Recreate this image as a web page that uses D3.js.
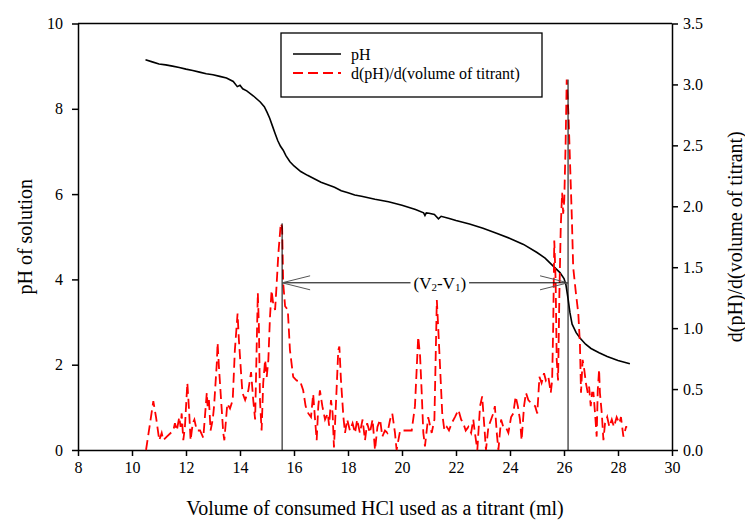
<!DOCTYPE html>
<html>
<head>
<meta charset="utf-8">
<script src="https://cdn.jsdelivr.net/npm/d3@7"></script>
<style>
  body { margin: 0; background: #fff; }
  svg text { font-family: "Liberation Serif", "Times New Roman", serif; fill: #000; }
  .axis path, .axis line { stroke: #000; stroke-width: 1.5; }
  .axis text { font-size: 16px; }
</style>
</head>
<body>
<svg id="chart" width="745" height="521"></svg>
<script>
// pH curve (volume in ml, pH)
const phVolume = [10.5, 10.75, 11.0, 11.25, 11.5, 11.75, 12.0, 12.25, 12.5, 12.75, 13.0, 13.25, 13.5, 13.75, 13.9, 14.0, 14.1, 14.25, 14.5, 14.75, 14.9, 15.0, 15.1, 15.2, 15.3, 15.4, 15.5, 15.6, 15.7, 15.85, 16.0, 16.25, 16.5, 16.75, 17.0, 17.25, 17.5, 17.75, 18.0, 18.25, 18.5, 19.0, 19.5, 20.0, 20.5, 20.8, 20.85, 20.9, 21.0, 21.2, 21.35, 21.45, 21.75, 22.0, 22.5, 23.0, 23.5, 24.0, 24.5, 25.0, 25.3, 25.6, 25.85, 26.0, 26.07, 26.15, 26.22, 26.3, 26.45, 26.6, 26.8, 27.0, 27.3, 27.6, 28.0, 28.44];
const phValue = [9.15, 9.10, 9.05, 9.03, 9.00, 8.97, 8.93, 8.90, 8.86, 8.82, 8.80, 8.76, 8.72, 8.64, 8.52, 8.55, 8.47, 8.42, 8.30, 8.16, 8.05, 7.92, 7.78, 7.60, 7.42, 7.25, 7.12, 7.03, 6.90, 6.76, 6.66, 6.53, 6.44, 6.36, 6.28, 6.22, 6.16, 6.08, 6.03, 5.98, 5.95, 5.88, 5.82, 5.74, 5.64, 5.56, 5.50, 5.56, 5.55, 5.52, 5.42, 5.48, 5.43, 5.38, 5.30, 5.20, 5.08, 4.96, 4.82, 4.63, 4.50, 4.31, 4.16, 4.02, 3.88, 3.55, 3.22, 2.95, 2.75, 2.62, 2.48, 2.38, 2.28, 2.19, 2.10, 2.02];

// first derivative, d(pH)/d(volume)
const derivVolume = [10.52, 10.79, 10.89, 11.01, 11.10, 11.16, 11.29, 11.53, 11.59, 11.66, 11.75, 11.80, 11.84, 11.90, 11.96, 12.05, 12.12, 12.17, 12.25, 12.31, 12.40, 12.52, 12.64, 12.77, 12.80, 12.85, 12.91, 12.99, 13.04, 13.14, 13.17, 13.22, 13.30, 13.38, 13.42, 13.53, 13.63, 13.73, 13.81, 13.91, 13.96, 14.04, 14.09, 14.19, 14.31, 14.41, 14.49, 14.56, 14.66, 14.70, 14.74, 14.80, 14.86, 14.93, 14.99, 15.05, 15.11, 15.17, 15.23, 15.30, 15.36, 15.42, 15.51, 15.56, 15.60, 15.67, 15.77, 15.85, 15.97, 16.10, 16.22, 16.34, 16.43, 16.53, 16.63, 16.71, 16.78, 16.84, 16.90, 16.96, 17.05, 17.15, 17.25, 17.30, 17.37, 17.43, 17.48, 17.56, 17.64, 17.68, 17.74, 17.83, 17.89, 17.97, 18.07, 18.17, 18.26, 18.34, 18.44, 18.54, 18.63, 18.71, 18.81, 18.91, 19.00, 19.09, 19.19, 19.27, 19.37, 19.46, 19.56, 19.64, 19.74, 19.80, 19.93, 19.99, 20.36, 20.48, 20.57, 20.60, 20.67, 20.73, 20.79, 20.85, 20.97, 21.10, 21.20, 21.29, 21.34, 21.41, 21.49, 21.57, 21.66, 21.74, 21.84, 21.96, 22.09, 22.19, 22.27, 22.36, 22.46, 22.56, 22.64, 22.70, 22.79, 22.89, 22.97, 23.05, 23.11, 23.20, 23.30, 23.38, 23.44, 23.51, 23.57, 23.67, 23.75, 23.84, 23.94, 24.04, 24.12, 24.21, 24.29, 24.37, 24.43, 24.52, 24.59, 24.68, 24.80, 24.93, 25.01, 25.09, 25.17, 25.26, 25.33, 25.42, 25.51, 25.56, 25.60, 25.64, 25.69, 25.73, 25.78, 25.83, 25.88, 25.93, 25.97, 26.01, 26.06, 26.10, 26.14, 26.17, 26.22, 26.29, 26.34, 26.44, 26.53, 26.59, 26.63, 26.69, 26.75, 26.81, 26.88, 26.93, 26.99, 27.04, 27.09, 27.15, 27.21, 27.25, 27.30, 27.33, 27.40, 27.46, 27.52, 27.60, 27.68, 27.77, 27.85, 27.95, 28.05, 28.11, 28.20, 28.30, 28.34];
const derivValue = [0.00, 0.40, 0.27, 0.08, 0.14, 0.08, 0.11, 0.16, 0.22, 0.16, 0.27, 0.19, 0.30, 0.08, 0.19, 0.55, 0.30, 0.08, 0.22, 0.25, 0.16, 0.16, 0.10, 0.47, 0.36, 0.41, 0.16, 0.25, 0.36, 0.71, 0.88, 0.68, 0.41, 0.14, 0.08, 0.38, 0.34, 0.41, 0.82, 1.12, 0.90, 0.63, 0.47, 0.41, 0.49, 0.64, 0.41, 0.25, 1.29, 1.01, 0.41, 0.16, 0.55, 0.74, 0.60, 0.74, 1.09, 1.31, 1.20, 1.15, 1.37, 1.61, 1.86, 1.83, 1.37, 1.18, 1.15, 0.82, 0.60, 0.57, 0.57, 0.49, 0.36, 0.30, 0.27, 0.46, 0.25, 0.08, 0.36, 0.49, 0.36, 0.25, 0.30, 0.20, 0.41, 0.30, 0.02, 0.41, 0.82, 0.85, 0.57, 0.27, 0.14, 0.25, 0.16, 0.22, 0.14, 0.25, 0.14, 0.25, 0.08, 0.22, 0.14, 0.25, 0.00, 0.19, 0.25, 0.11, 0.16, 0.14, 0.25, 0.30, 0.14, 0.00, 0.16, 0.16, 0.16, 0.36, 0.79, 0.93, 0.77, 0.47, 0.14, 0.03, 0.27, 0.14, 0.25, 1.23, 1.01, 0.68, 0.30, 0.16, 0.19, 0.16, 0.22, 0.27, 0.33, 0.25, 0.22, 0.16, 0.19, 0.14, 0.25, 0.14, 0.00, 0.36, 0.44, 0.19, 0.00, 0.19, 0.25, 0.30, 0.36, 0.14, 0.00, 0.25, 0.19, 0.19, 0.14, 0.27, 0.30, 0.44, 0.36, 0.25, 0.08, 0.36, 0.47, 0.41, 0.38, 0.36, 0.30, 0.60, 0.55, 0.63, 0.57, 0.60, 0.47, 0.57, 1.01, 1.72, 1.39, 0.74, 0.57, 1.29, 1.83, 2.11, 1.94, 2.05, 2.52, 3.04, 2.87, 2.73, 2.38, 1.91, 1.50, 1.29, 1.12, 0.87, 0.47, 0.74, 0.66, 0.55, 0.47, 0.52, 0.36, 0.47, 0.47, 0.30, 0.11, 0.49, 0.66, 0.47, 0.30, 0.08, 0.22, 0.27, 0.19, 0.25, 0.19, 0.27, 0.22, 0.27, 0.11, 0.19, 0.19];

// axis ticks
const xTicks = [8, 10, 12, 14, 16, 18, 20, 22, 24, 26, 28, 30];
const phTicks = [0, 2, 4, 6, 8, 10];
const derivTicks = [0, 0.5, 1.0, 1.5, 2.0, 2.5, 3.0, 3.5];

// equivalence points marked on the chart
const v1 = 15.56, v2 = 26.15;
const v1Peak = 1.86, v2Peak = 3.04;
const arrowPH = 3.92;
const labelVolume = 21.4;

const margin = { top: 23.5, right: 73, bottom: 71, left: 78 };
const width = 745 - margin.left - margin.right;
const height = 521 - margin.top - margin.bottom;

const svg = d3.select("#chart");
const g = svg.append("g").attr("transform", `translate(${margin.left},${margin.top})`);

const x = d3.scaleLinear().domain([8, 30]).range([0, width]);
const yLeft = d3.scaleLinear().domain([0, 10]).range([height, 0]);
const yRight = d3.scaleLinear().domain([0, 3.5]).range([height, 0]);

// top border
g.append("line")
    .attr("x1", 0).attr("x2", width)
    .attr("y1", 0).attr("y2", 0)
    .attr("stroke", "#000").attr("stroke-width", 1.5);

g.append("g").attr("class", "axis")
    .attr("transform", `translate(0,${height})`)
    .call(d3.axisBottom(x).tickValues(xTicks).tickSize(6).tickPadding(6).tickSizeOuter(0).tickFormat(d3.format("d")));

g.append("g").attr("class", "axis")
    .call(d3.axisLeft(yLeft).tickValues(phTicks).tickSize(6).tickPadding(9).tickSizeOuter(0).tickFormat(d3.format("d")));

g.append("g").attr("class", "axis")
    .attr("transform", `translate(${width},0)`)
    .call(d3.axisRight(yRight).tickValues(derivTicks).tickSize(6).tickPadding(5).tickSizeOuter(0).tickFormat(d3.format(".1f")));

// axis titles
svg.append("text")
    .attr("x", margin.left + x(19)).attr("y", 508)
    .attr("text-anchor", "middle").attr("dominant-baseline", "central")
    .style("font-size", "20px")
    .text("Volume of consumed HCl used as a titrant (ml)");

svg.append("text")
    .attr("transform", `translate(25,${margin.top + height / 2}) rotate(-90)`)
    .attr("text-anchor", "middle").attr("dominant-baseline", "central")
    .style("font-size", "20px")
    .text("pH of solution");

svg.append("text")
    .attr("transform", `translate(735,${margin.top + height / 2}) rotate(-90)`)
    .attr("text-anchor", "middle").attr("dominant-baseline", "central")
    .style("font-size", "20px")
    .text("d(pH)/d(volume of titrant)");

// lines
const phLine = d3.line().x((d, i) => x(phVolume[i])).y(d => yLeft(d));
const derivLine = d3.line().x((d, i) => x(derivVolume[i])).y(d => yRight(d));

g.append("path")
    .attr("d", phLine(phValue))
    .attr("fill", "none").attr("stroke", "#000").attr("stroke-width", 1.6);

g.append("path")
    .attr("d", derivLine(derivValue))
    .attr("fill", "none").attr("stroke", "#ff0000").attr("stroke-width", 1.8)
    .attr("stroke-dasharray", "10,5");

// equivalence markers
const ann = g.append("g").attr("stroke", "#000").attr("stroke-width", 1);
ann.append("line")
    .attr("x1", x(v1)).attr("x2", x(v1))
    .attr("y1", yRight(v1Peak)).attr("y2", height);
ann.append("line")
    .attr("x1", x(v2)).attr("x2", x(v2))
    .attr("y1", yRight(v2Peak)).attr("y2", height);
ann.append("line")
    .attr("x1", x(v1)).attr("x2", x(v2))
    .attr("y1", yLeft(arrowPH)).attr("y2", yLeft(arrowPH));

// open arrow heads
const ay = yLeft(arrowPH);
const heads = [
    [[x(v1) + 28, ay - 7], [x(v1), ay], [x(v1) + 28, ay + 7]],
    [[x(v2) - 28, ay - 7], [x(v2), ay], [x(v2) - 28, ay + 7]]
];
g.selectAll(".head")
    .data(heads)
    .join("path")
    .attr("class", "head")
    .attr("d", d => d3.line()(d))
    .attr("fill", "none").attr("stroke", "#555").attr("stroke-width", 1);

// label over the arrow, with a white patch to break the line
const labelGroup = g.append("g");
const label = labelGroup.append("text")
    .attr("x", x(labelVolume)).attr("y", ay)
    .attr("text-anchor", "middle").attr("dominant-baseline", "central")
    .style("font-size", "17px");
label.append("tspan").text("(V");
label.append("tspan").attr("dy", 4).style("font-size", "11px").text("2");
label.append("tspan").attr("dy", -4).text("-V");
label.append("tspan").attr("dy", 4).style("font-size", "11px").text("1");
label.append("tspan").attr("dy", -4).text(")");

const bb = label.node().getBBox();
labelGroup.insert("rect", () => label.node())
    .attr("x", bb.x - 3).attr("y", bb.y)
    .attr("width", bb.width + 6).attr("height", bb.height)
    .attr("fill", "#fff");

// legend
const legend = svg.append("g").attr("transform", "translate(281,33)");
legend.append("rect")
    .attr("width", 261).attr("height", 64)
    .attr("fill", "#fff").attr("stroke", "#000").attr("stroke-width", 1.3);

const legendItems = [
    { label: "pH", color: "#000", dash: null, width: 1.6 },
    { label: "d(pH)/d(volume of titrant)", color: "#ff0000", dash: "10,5", width: 1.8 }
];
legend.selectAll("g.item")
    .data(legendItems)
    .join("g")
    .attr("class", "item")
    .attr("transform", (d, i) => `translate(0,${21 + i * 19})`)
    .each(function (d) {
        const item = d3.select(this);
        item.append("line")
            .attr("x1", 12).attr("x2", 60)
            .attr("stroke", d.color).attr("stroke-width", d.width)
            .attr("stroke-dasharray", d.dash);
        item.append("text")
            .attr("x", 70).attr("dominant-baseline", "central")
            .style("font-size", "16px")
            .text(d.label);
    });
</script>
</body>
</html>
